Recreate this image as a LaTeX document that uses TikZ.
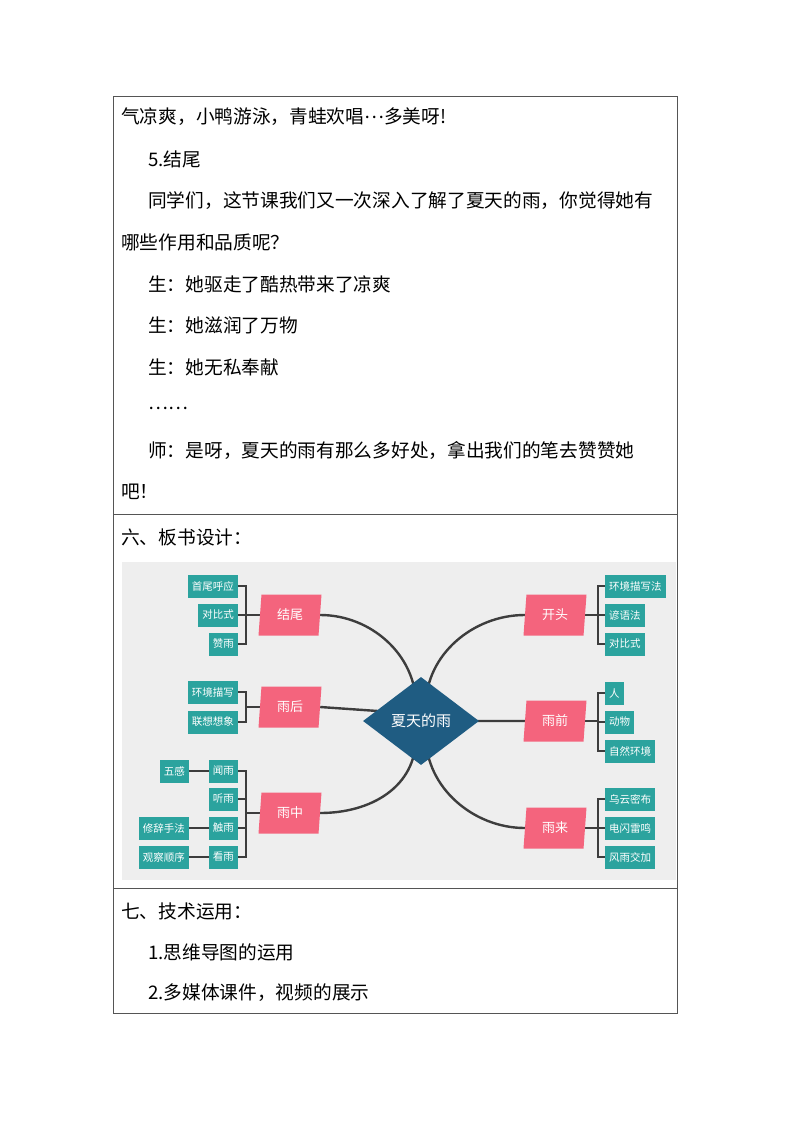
\documentclass[tikz,border=0pt]{standalone}
\usepackage{fontspec}
\setmainfont{Noto Sans CJK SC}
\usetikzlibrary{shapes.geometric,calc}
\definecolor{pinkc}{HTML}{F4647D}
\definecolor{tealc}{HTML}{2BA39E}
\definecolor{bluec}{HTML}{1F5C82}
\definecolor{linec}{HTML}{3D3D3D}
\definecolor{bgc}{HTML}{EEEEEE}
\definecolor{borderc}{HTML}{555555}
\pgfdeclarelayer{bgimg}
\pgfdeclarelayer{lines}
\pgfsetlayers{bgimg,lines,main}
\begin{document}
\begin{tikzpicture}[x=1pt,y=-1pt,
 body/.style={anchor=west,inner sep=0pt,font=\fontsize{18.7}{20}\selectfont},
 topic/.style={trapezium,trapezium left angle=76,trapezium right angle=104,trapezium stretches body,fill=pinkc,text=white,minimum width=63pt,minimum height=41pt,inner sep=0pt,font=\fontsize{13}{15}\selectfont},
 leaf/.style={fill=tealc,text=white,minimum height=23pt,inner xsep=4pt,inner ysep=0pt,font=\fontsize{10.5}{12}\selectfont},
 conn/.style={draw=linec,line width=2.4pt},
 brk/.style={draw=linec,line width=2.2pt},
 tbl/.style={draw=borderc,line width=0.9pt}
]
\useasboundingbox (0,0) rectangle (794,1123);
% table
\draw[tbl] (113,96) rectangle (677,1013);
\draw[tbl] (113,514) -- (677,514);
\draw[tbl] (113,888) -- (677,888);
% body text
\node[body] (t1) at (121,117) {气凉爽，小鸭游泳，青蛙欢唱\raisebox{0.3em}{…}多美呀!};
\node[body] (t2) at (148,159) {5.结尾};
\node[body] (t3) at (148,201) {同学们，这节课我们又一次深入了解了夏天的雨，你觉得她有};
\node[body] (t4) at (121,242) {哪些作用和品质呢？};
\node[body] (t5) at (148,284) {生：她驱走了酷热带来了凉爽};
\node[body] (t6) at (148,325) {生：她滋润了万物};
\node[body] (t7) at (148,367) {生：她无私奉献};
\node[body] (t8) at (148,408) {……};
\node[body] (t9) at (148,450) {师：是呀，夏天的雨有那么多好处，拿出我们的笔去赞赞她};
\node[body] (t10) at (121,492) {吧！};
\node[body] (t11) at (121,537) {六、板书设计：};
\node[body] (t12) at (121,911) {七、技术运用：};
\node[body] (t13) at (148,952) {1.思维导图的运用};
\node[body] (t14) at (148,993) {2.多媒体课件，视频的展示};
% mind map background
\begin{pgfonlayer}{bgimg}
\fill[bgc] (122,562) rectangle (676,880);
\end{pgfonlayer}
% center
\node[diamond,fill=bluec,text=white,minimum width=116pt,minimum height=88pt,inner sep=0pt,font=\fontsize{15}{17}\selectfont] (c) at (421,721) {夏天的雨};
% topics
\node[topic] (jw) at (290,615) {结尾};
\node[topic] (yh) at (290,707) {雨后};
\node[topic] (yz) at (290,813) {雨中};
\node[topic] (kt) at (555,615) {开头};
\node[topic] (yq) at (555,721) {雨前};
\node[topic] (yl) at (555,828) {雨来};
% left leaves
\node[leaf,anchor=east] (a1) at (238,586) {首尾呼应};
\node[leaf,anchor=east] (a2) at (238,615) {对比式};
\node[leaf,anchor=east] (a3) at (238,644) {赞雨};
\node[leaf,anchor=east] (b1) at (238,692) {环境描写};
\node[leaf,anchor=east] (b2) at (238,722) {联想想象};
\node[leaf,anchor=east] (m1) at (238,771) {闻雨};
\node[leaf,anchor=east] (m2) at (238,799) {听雨};
\node[leaf,anchor=east] (m3) at (238,828) {触雨};
\node[leaf,anchor=east] (m4) at (238,857) {看雨};
\node[leaf,anchor=east] (n1) at (189,771) {五感};
\node[leaf,anchor=east] (n3) at (189,828) {修辞手法};
\node[leaf,anchor=east] (n4) at (189,857) {观察顺序};
% right leaves
\node[leaf,anchor=west] (k1) at (605,586) {环境描写法};
\node[leaf,anchor=west] (k2) at (605,615) {谚语法};
\node[leaf,anchor=west] (k3) at (605,644) {对比式};
\node[leaf,anchor=west] (q1) at (605,693) {人};
\node[leaf,anchor=west] (q2) at (605,722) {动物};
\node[leaf,anchor=west] (q3) at (605,751) {自然环境};
\node[leaf,anchor=west] (l1) at (605,799) {乌云密布};
\node[leaf,anchor=west] (l2) at (605,828) {电闪雷鸣};
\node[leaf,anchor=west] (l3) at (605,857) {风雨交加};
% connectors
\coordinate (tl) at (416,705);
\coordinate (tr) at (426,705);
\coordinate (bl) at (416,737);
\coordinate (br) at (426,737);
\coordinate (lh) at (392,712);
\begin{pgfonlayer}{lines}
\draw[conn] (jw.east) .. controls (371,615) and (416,655) .. (tl);
\draw[conn] (kt.west) .. controls (473,615) and (426,655) .. (tr);
\draw[conn] (yz.east) .. controls (371,813) and (416,787) .. (bl);
\draw[conn] (yl.west) .. controls (473,828) and (426,787) .. (br);
\draw[conn] (yh.east) -- (lh);
\draw[conn] (c.center) -- (yq.west);
\foreach \n in {a1,a2,a3} \draw[brk] (\n.east) -- ++(8,0) |- (jw.west);
\foreach \n in {b1,b2} \draw[brk] (\n.east) -- ++(8,0) |- (yh.west);
\foreach \n in {m1,m2,m3,m4} \draw[brk] (\n.east) -- ++(8,0) |- (yz.west);
\draw[brk] (n1.east) -- (m1.west);
\draw[brk] (n3.east) -- (m3.west);
\draw[brk] (n4.east) -- (m4.west);
\foreach \n in {k1,k2,k3} \draw[brk] (\n.west) -- ++(-7,0) |- (kt.east);
\foreach \n in {q1,q2,q3} \draw[brk] (\n.west) -- ++(-7,0) |- (yq.east);
\foreach \n in {l1,l2,l3} \draw[brk] (\n.west) -- ++(-7,0) |- (yl.east);
\end{pgfonlayer}
\end{tikzpicture}
\end{document}
